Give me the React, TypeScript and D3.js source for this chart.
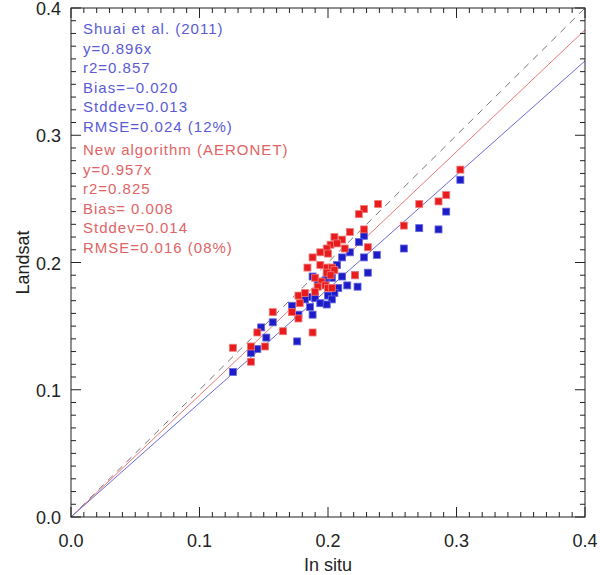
import * as d3 from 'd3'

// In situ vs Landsat, [insitu, landsat]
const shuaiPoints: [number, number][] = [
  [0.303, 0.265], [0.292, 0.240], [0.286, 0.226], [0.271, 0.227], [0.259, 0.211],
  [0.238, 0.206], [0.228, 0.221], [0.224, 0.216], [0.228, 0.204], [0.231, 0.192],
  [0.217, 0.208], [0.211, 0.204], [0.207, 0.198], [0.203, 0.188], [0.211, 0.189],
  [0.221, 0.190], [0.223, 0.181], [0.215, 0.182], [0.208, 0.180], [0.205, 0.176],
  [0.200, 0.174], [0.203, 0.171], [0.184, 0.173], [0.190, 0.172], [0.194, 0.168],
  [0.199, 0.167], [0.186, 0.165], [0.182, 0.171], [0.198, 0.186], [0.192, 0.185],
  [0.188, 0.189], [0.199, 0.189], [0.188, 0.159], [0.177, 0.159], [0.176, 0.138],
  [0.172, 0.166], [0.157, 0.153], [0.152, 0.141], [0.148, 0.149], [0.145, 0.132],
  [0.140, 0.129], [0.126, 0.114],
]

const newAlgPoints: [number, number][] = [
  [0.303, 0.273], [0.292, 0.253], [0.286, 0.248], [0.271, 0.246], [0.259, 0.229],
  [0.239, 0.246], [0.228, 0.242], [0.224, 0.238], [0.228, 0.226], [0.231, 0.212],
  [0.217, 0.224], [0.221, 0.190], [0.205, 0.220], [0.211, 0.218], [0.202, 0.214],
  [0.207, 0.215], [0.213, 0.211], [0.199, 0.211], [0.194, 0.208], [0.200, 0.207],
  [0.188, 0.204], [0.184, 0.196], [0.194, 0.198], [0.199, 0.196], [0.203, 0.196],
  [0.205, 0.194], [0.199, 0.192], [0.202, 0.190], [0.190, 0.188], [0.195, 0.185],
  [0.198, 0.182], [0.192, 0.181], [0.200, 0.180], [0.203, 0.180], [0.190, 0.177],
  [0.177, 0.174], [0.182, 0.176], [0.178, 0.168], [0.188, 0.145], [0.177, 0.156],
  [0.172, 0.161], [0.165, 0.146], [0.157, 0.161], [0.151, 0.134], [0.145, 0.145],
  [0.140, 0.122], [0.140, 0.134], [0.126, 0.133],
]

const shuaiSlope = 0.896
const newAlgSlope = 0.957

const shuaiText = ['Shuai et al. (2011)', 'y=0.896x', 'r2=0.857', 'Bias=\u22120.020', 'Stddev=0.013', 'RMSE=0.024 (12%)']
const newAlgText = ['New algorithm (AERONET)', 'y=0.957x', 'r2=0.825', 'Bias= 0.008', 'Stddev=0.014', 'RMSE=0.016 (08%)']

const majorTicks = [0, 0.1, 0.2, 0.3, 0.4]
const minorTicks = d3.range(0, 41).map((i) => i / 100)

export default function App() {
  const width = 600
  const height = 575
  const margin = { top: 8, right: 15, bottom: 58, left: 71 }
  const x0 = margin.left
  const x1 = width - margin.right
  const y0 = height - margin.bottom
  const y1 = margin.top

  const xScale = d3.scaleLinear().domain([0, 0.4]).range([x0, x1])
  const yScale = d3.scaleLinear().domain([0, 0.4]).range([y0, y1])

  const line = d3
    .line<number>()
    .x((d) => xScale(d))
    .y((d) => yScale(d))

  const fitLine = (slope: number) =>
    d3
      .line<number>()
      .x((d) => xScale(d))
      .y((d) => yScale(d * slope))([0, 0.4]) as string

  const font = '"Liberation Sans", Arial, sans-serif'
  const sq = 7

  return (
    <svg
      width={width}
      height={height}
      style={{ position: 'absolute', left: 0, top: 0, background: '#fff' }}
      fontFamily={font}
    >
      {/* 1:1 line and fits */}
      <path d={line([0, 0.4]) as string} stroke="#777" strokeWidth={1} strokeDasharray="7,6" fill="none" />
      <path d={fitLine(newAlgSlope)} stroke="#e87878" strokeWidth={1} fill="none" />
      <path d={fitLine(shuaiSlope)} stroke="#6a6ad8" strokeWidth={1} fill="none" />

      {/* points */}
      {shuaiPoints.map((d, i) => (
        <rect
          key={'b' + i}
          x={xScale(d[0]) - sq / 2}
          y={yScale(d[1]) - sq / 2}
          width={sq}
          height={sq}
          fill="#1c1cc8"
          stroke="#6666dd"
          strokeWidth={0.8}
        />
      ))}
      {newAlgPoints.map((d, i) => (
        <rect
          key={'r' + i}
          x={xScale(d[0]) - sq / 2}
          y={yScale(d[1]) - sq / 2}
          width={sq}
          height={sq}
          fill="#e81c1c"
          stroke="#f07a7a"
          strokeWidth={0.8}
        />
      ))}

      {/* frame */}
      <rect x={x0} y={y1} width={x1 - x0} height={y0 - y1} fill="none" stroke="#222" strokeWidth={1} />

      {/* ticks on all sides */}
      {minorTicks.map((t, i) => {
        const major = i % 10 === 0
        const len = major ? 10 : 5
        const px = xScale(t)
        const py = yScale(t)
        return (
          <g key={'t' + i} stroke="#222" strokeWidth={1}>
            <line x1={px} x2={px} y1={y0} y2={y0 - len} />
            <line x1={px} x2={px} y1={y1} y2={y1 + len} />
            <line x1={x0} x2={x0 + len} y1={py} y2={py} />
            <line x1={x1} x2={x1 - len} y1={py} y2={py} />
          </g>
        )
      })}

      {/* tick labels */}
      {majorTicks.map((t) => (
        <text key={'xl' + t} x={xScale(t)} y={y0 + 30} textAnchor="middle" fontSize={18} fill="#222">
          {t.toFixed(1)}
        </text>
      ))}
      {majorTicks.map((t) => (
        <text key={'yl' + t} x={x0 - 10} y={yScale(t) + 7} textAnchor="end" fontSize={18} fill="#222">
          {t.toFixed(1)}
        </text>
      ))}

      {/* axis titles */}
      <text x={(x0 + x1) / 2} y={height - 4} textAnchor="middle" fontSize={18} fill="#222">
        In situ
      </text>
      <text
        transform={`translate(29,${(y0 + y1) / 2}) rotate(-90)`}
        textAnchor="middle"
        fontSize={18}
        fill="#222"
      >
        Landsat
      </text>

      {/* statistics */}
      {shuaiText.map((s, i) => (
        <text key={'st' + i} x={x0 + 12} y={y1 + 26 + i * 19.5} fontSize={15} letterSpacing={1} fill="#5a5ad6">
          {s}
        </text>
      ))}
      {newAlgText.map((s, i) => (
        <text key={'nt' + i} x={x0 + 12} y={y1 + 147 + i * 19.5} fontSize={15} letterSpacing={1} fill="#e06464">
          {s}
        </text>
      ))}
    </svg>
  )
}
